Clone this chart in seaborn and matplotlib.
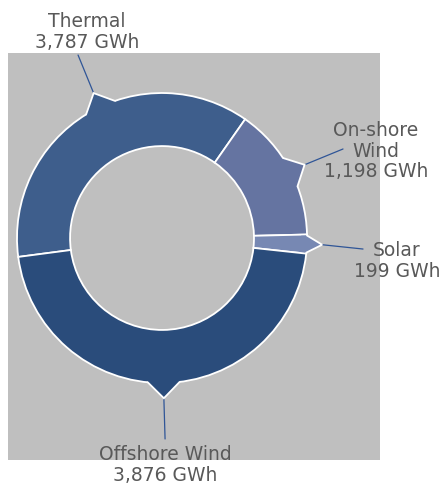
import numpy as np
import matplotlib.pyplot as plt
import seaborn as sns
from matplotlib.patches import Polygon

sources = ["Thermal", "On-shore\nWind", "Solar", "Offshore Wind"]
generation_gwh = [3787, 1198, 199, 3876]
# share of the ring each slice takes in the picture (%)
ring_share = [36.8, 14.9, 2.1, 46.2]
colors = ["#3E5E8C", "#6574A1", "#7788B3", "#2A4C7B"]

# label centres and leader-line ends, in units of the ring radius
label_xy = [(-0.517, 1.421), (1.476, 0.60), (1.621, -0.159), (0.021, -1.566)]
leader_end = [(-0.579, 1.262), (1.248, 0.614), (1.386, -0.076), (0.021, -1.386)]
pointer_shift = [-6, -1, 0, 0]  # degrees, pointer position vs. slice middle

sns.set_theme(style="white")
plt.rcParams["font.family"] = ["DejaVu Sans"]

fig = plt.figure(figsize=(4.46, 4.87), dpi=100)
ax = fig.add_axes([8 / 446, 27 / 487, 372 / 446, 407 / 487])

wedges, _ = ax.pie(ring_share, colors=colors, startangle=187.5, counterclock=False,
                   radius=1.0,
                   wedgeprops=dict(width=0.366, edgecolor="white", linewidth=1.3))


def pt(r, a):
    a = np.deg2rad(a)
    return r * np.cos(a), r * np.sin(a)


# little pointer on the outer edge of every slice
for w, col, lab, val, lxy, lend, sh in zip(wedges, colors, sources, generation_gwh,
                                           label_xy, leader_end, pointer_shift):
    mid = (w.theta1 + w.theta2) / 2 + sh
    half = min(6.3, (w.theta2 - w.theta1) / 2 - 0.4)
    tip = pt(1.105, mid)
    verts = [pt(0.96, mid - half), pt(1.0, mid - half), tip,
             pt(1.0, mid + half), pt(0.96, mid + half)]
    ax.add_patch(Polygon(verts, closed=True, facecolor=col, edgecolor="none", zorder=3))
    a, b = pt(1.0, mid - half), pt(1.0, mid + half)
    ax.plot([a[0], tip[0], b[0]], [a[1], tip[1], b[1]], color="white", lw=1.3,
            zorder=4, solid_joinstyle="miter")
    ax.plot([tip[0], lend[0]], [tip[1], lend[1]], color="#2F5597", lw=0.9,
            zorder=2, clip_on=False)
    ax.text(lxy[0], lxy[1], f"{lab}\n{val:,} GWh", ha="center", va="center",
            multialignment="center", fontsize=13.5, color="#595959",
            linespacing=1.08, clip_on=False, zorder=5)

ax.set_xlim(-1.062, 1.503)
ax.set_ylim(-1.531, 1.276)
ax.set_aspect("auto")
ax.set_frame_on(True)
ax.set_facecolor("#BFBFBF")
for s in ax.spines.values():
    s.set_visible(False)
ax.set_xticks([])
ax.set_yticks([])

fig.savefig("out.png", dpi=100, facecolor="white")
